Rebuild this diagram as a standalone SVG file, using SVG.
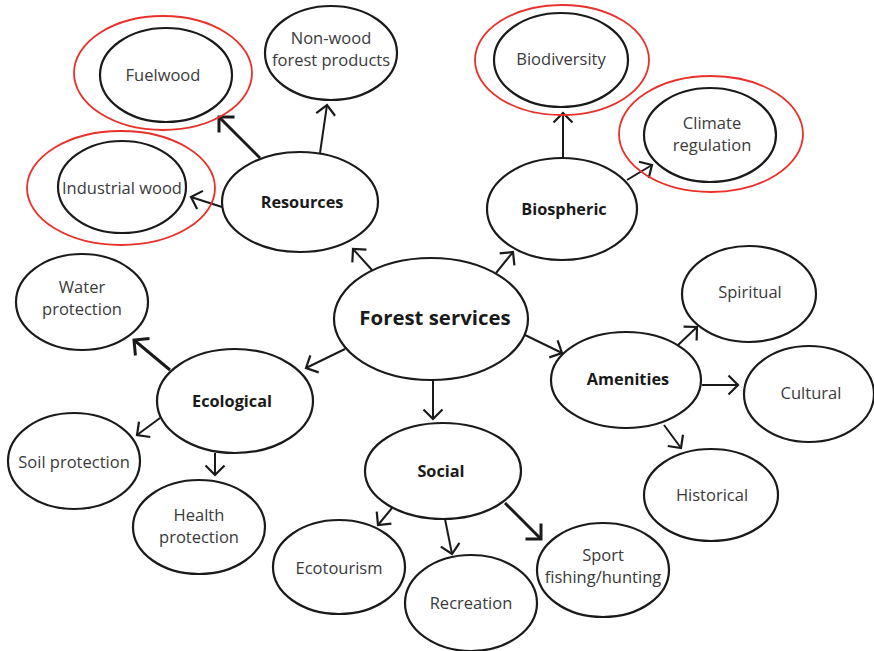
<svg xmlns="http://www.w3.org/2000/svg" width="874" height="651" viewBox="0 0 874 651">
<defs>
<marker id="ah" markerUnits="userSpaceOnUse" markerWidth="24" markerHeight="24" viewBox="-14 -12 18 24" refX="0" refY="0" orient="auto">
<path d="M-9.5,-9.5 L0,0 L-9.5,9.5" fill="none" stroke="#1a1a1a" stroke-width="2.2"/>
</marker>
<marker id="ahk" markerUnits="userSpaceOnUse" markerWidth="28" markerHeight="28" viewBox="-16 -14 20 28" refX="0" refY="0" orient="auto">
<path d="M-11,-11 L0,0 L-11,11" fill="none" stroke="#1a1a1a" stroke-width="3"/>
</marker>
</defs>
<style>
.n{fill:#fff;stroke:#1a1a1a;stroke-width:2.2}
.r{fill:none;stroke:#e8312a;stroke-width:1.8}
.t{font-family:"Open Sans","Liberation Sans",sans-serif;font-size:16.5px;fill:#3a3a3a;text-anchor:middle}
.b{font-family:"Open Sans","Liberation Sans",sans-serif;font-size:16.3px;font-weight:bold;fill:#1a1a1a;text-anchor:middle}
.c line{stroke:#1a1a1a;stroke-width:2;marker-end:url(#ah)}
.c line.k{stroke-width:3;marker-end:url(#ahk)}
</style>
<rect width="874" height="651" fill="#fff"/>
<g class="c" id="connectors">
<line class="k" x1="260" y1="158" x2="219" y2="117"/>
<line x1="320" y1="153" x2="327" y2="105"/>
<line x1="222" y1="207" x2="191" y2="197"/>
<line x1="372" y1="270" x2="353" y2="249"/>
<line x1="496" y1="273" x2="513" y2="252"/>
<line x1="563" y1="158" x2="563" y2="113"/>
<line x1="627" y1="180" x2="652" y2="165"/>
<line x1="345" y1="349" x2="306" y2="368"/>
<line class="k" x1="170" y1="370" x2="134" y2="340"/>
<line x1="160" y1="418" x2="137" y2="435"/>
<line x1="215" y1="453" x2="215" y2="475"/>
<line x1="433" y1="380" x2="433" y2="419"/>
<line x1="525" y1="335" x2="562" y2="353"/>
<line x1="678" y1="345" x2="697" y2="327"/>
<line x1="702" y1="385" x2="738" y2="385"/>
<line x1="664" y1="425" x2="681" y2="448"/>
<line x1="392" y1="508" x2="378" y2="525"/>
<line x1="445" y1="519" x2="452" y2="554"/>
<line class="k" x1="505" y1="503" x2="541" y2="539"/>
</g>
<g id="fuelwood"><ellipse class="r" cx="163" cy="73" rx="89" ry="57"/><ellipse class="n" cx="166" cy="75" rx="66" ry="47"/><text class="t" x="163" y="81">Fuelwood</text></g>
<g id="nonwood"><ellipse class="n" cx="331" cy="53" rx="66" ry="47"/><text class="t" x="331" y="44">Non-wood</text><text class="t" x="331" y="66">forest products</text></g>
<g id="industrial"><ellipse class="r" cx="121" cy="188" rx="94" ry="57"/><ellipse class="n" cx="122" cy="187" rx="64" ry="46"/><text class="t" x="122" y="194">Industrial wood</text></g>
<g id="resources"><ellipse class="n" cx="300" cy="202" rx="78" ry="50"/><text class="b" x="302" y="208">Resources</text></g>
<g id="biodiversity"><ellipse class="r" cx="562" cy="60" rx="87" ry="55"/><ellipse class="n" cx="561" cy="60" rx="67" ry="47"/><text class="t" x="561" y="65">Biodiversity</text></g>
<g id="climate"><ellipse class="r" cx="711" cy="134" rx="92" ry="58"/><ellipse class="n" cx="710" cy="135" rx="66" ry="47"/><text class="t" x="712" y="129">Climate</text><text class="t" x="712" y="151">regulation</text></g>
<g id="biospheric"><ellipse class="n" cx="562" cy="209" rx="75" ry="51"/><text class="b" x="564" y="215">Biospheric</text></g>
<g id="forest"><ellipse class="n" cx="431" cy="319" rx="97" ry="61"/><text class="b" x="435" y="325" style="font-size:20.4px">Forest services</text></g>
<g id="water"><ellipse class="n" cx="82" cy="302" rx="66" ry="48"/><text class="t" x="82" y="293">Water</text><text class="t" x="82" y="315">protection</text></g>
<g id="ecological"><ellipse class="n" cx="235" cy="401" rx="78" ry="52"/><text class="b" x="232" y="407">Ecological</text></g>
<g id="soil"><ellipse class="n" cx="74" cy="461" rx="66" ry="48"/><text class="t" x="74" y="468">Soil protection</text></g>
<g id="health"><ellipse class="n" cx="199" cy="527" rx="66" ry="47"/><text class="t" x="199" y="521">Health</text><text class="t" x="199" y="543">protection</text></g>
<g id="social"><ellipse class="n" cx="443" cy="471" rx="78" ry="48"/><text class="b" x="441" y="477">Social</text></g>
<g id="ecotourism"><ellipse class="n" cx="339" cy="567" rx="66" ry="47"/><text class="t" x="339" y="574">Ecotourism</text></g>
<g id="recreation"><ellipse class="n" cx="471" cy="603" rx="66" ry="48"/><text class="t" x="471" y="609">Recreation</text></g>
<g id="sport"><ellipse class="n" cx="603" cy="570" rx="66" ry="47"/><text class="t" x="603" y="561">Sport</text><text class="t" x="603" y="583">fishing/hunting</text></g>
<g id="amenities"><ellipse class="n" cx="626" cy="380" rx="75" ry="48"/><text class="b" x="628" y="385">Amenities</text></g>
<g id="spiritual"><ellipse class="n" cx="749" cy="294" rx="67" ry="48"/><text class="t" x="750" y="298">Spiritual</text></g>
<g id="cultural"><ellipse class="n" cx="809" cy="394" rx="65" ry="48"/><text class="t" x="811" y="399">Cultural</text></g>
<g id="historical"><ellipse class="n" cx="711" cy="495" rx="67" ry="46"/><text class="t" x="712" y="501">Historical</text></g>
</svg>
